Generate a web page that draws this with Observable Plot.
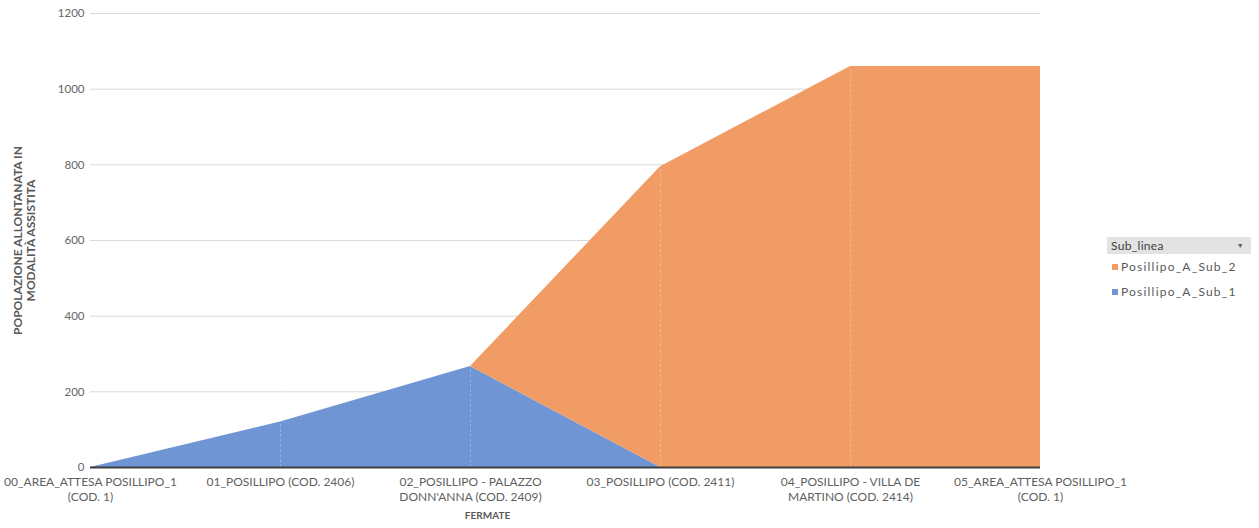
<!DOCTYPE html>
<html>
<head>
<meta charset="utf-8">
<script src="https://cdn.jsdelivr.net/npm/d3@7"></script>
<script src="https://cdn.jsdelivr.net/npm/@observablehq/plot@0.6"></script>
<style>
  html, body { margin: 0; padding: 0; background: #fff; }
  #wrap { position: relative; width: 1259px; height: 528px; font-family: Lato, "Open Sans", sans-serif; }
  #legend { position: absolute; left: 1107px; top: 237px; width: 144px; font-size: 12px; color: #595959; }
  #legend .head { background: #e3e3e3; height: 17px; line-height: 17px; padding-left: 4px; color: #404040; position: relative; letter-spacing: 0.3px; }
  #legend .head span.arrow { position: absolute; right: 7px; top: 0; font-size: 7px; color: #595959; }
  #legend .item { height: 25px; line-height: 25px; padding-left: 5px; letter-spacing: 1.2px; white-space: nowrap; }
  #legend .sw { display: inline-block; width: 6px; height: 6px; margin-right: 3px; vertical-align: 1px; }
</style>
</head>
<body>
<div id="wrap"></div>
<script>
const categories = [
  "00_AREA_ATTESA POSILLIPO_1 (COD. 1)",
  "01_POSILLIPO (COD. 2406)",
  "02_POSILLIPO - PALAZZO DONN'ANNA (COD. 2409)",
  "03_POSILLIPO (COD. 2411)",
  "04_POSILLIPO - VILLA DE MARTINO (COD. 2414)",
  "05_AREA_ATTESA POSILLIPO_1 (COD. 1)"
];
const tickLabels = [
  "00_AREA_ATTESA POSILLIPO_1\n(COD. 1)",
  "01_POSILLIPO (COD. 2406)",
  "02_POSILLIPO - PALAZZO\nDONN'ANNA (COD. 2409)",
  "03_POSILLIPO (COD. 2411)",
  "04_POSILLIPO - VILLA DE\nMARTINO (COD. 2414)",
  "05_AREA_ATTESA POSILLIPO_1\n(COD. 1)"
];
const seriesNames = ["Posillipo_A_Sub_1", "Posillipo_A_Sub_2"];
const sub1 = [0, 120, 267, 0, 0, 0];
const sub2 = [0, 0, 0, 795, 1060, 1060];
const yTicks = [0, 200, 400, 600, 800, 1000, 1200];
const colors = ["#6F95D4", "#F19C64"];

const data = [];
categories.forEach((c, i) => {
  data.push({cat: c, serie: seriesNames[0], v: sub1[i]});
  data.push({cat: c, serie: seriesNames[1], v: sub2[i]});
});
const labelOf = new Map(categories.map((c, i) => [c, tickLabels[i]]));

const chart = Plot.plot({
  width: 1259,
  height: 528,
  marginLeft: 90,
  marginRight: 219,
  marginTop: 13,
  marginBottom: 61,
  style: {fontFamily: "Lato, 'Open Sans', sans-serif", fontSize: "12px", color: "#595959", background: "#fff"},
  x: {type: "point", domain: categories, padding: 0, label: null},
  y: {domain: [0, 1200], label: null},
  color: {domain: seriesNames, range: colors},
  marks: [
    Plot.gridY(yTicks, {stroke: "#d9d9d9", strokeOpacity: 1, strokeWidth: 1}),
    Plot.areaY(data, {x: "cat", y: "v", fill: "serie", order: seriesNames, fillOpacity: 1}),
    Plot.ruleX(categories.slice(1, 5), {stroke: "#ffffff", strokeOpacity: 0.25, strokeDasharray: "3,2", y1: 0, y2: 1200}),
    Plot.ruleY([0], {stroke: "#404040", strokeWidth: 2}),
    Plot.axisY(yTicks, {tickSize: 0, tickPadding: 6, fontSize: 11.5, fill: "#666", label: null, tickFormat: d => String(d)}),
    Plot.axisX({tickSize: 0, tickPadding: 8, fontSize: 12, fill: "#5f5f5f", lineHeight: 1.25, tickFormat: d => labelOf.get(d), label: null}),
    Plot.text(["POPOLAZIONE ALLONTANATA IN\nMODALITÀ ASSISTITA"], {frameAnchor: "left", textAnchor: "middle", dx: -66, dy: 0, rotate: -90, fontSize: 12, fontWeight: "bold", fill: "#595959", lineHeight: 1.1}),
    Plot.text(["FERMATE"], {x: () => categories[2], frameAnchor: "bottom", dx: 17, dy: 51, fontSize: 10, fontWeight: "bold", fill: "#595959"})
  ]
});
const wrap = document.getElementById("wrap");
wrap.appendChild(chart);

const legend = document.createElement("div");
legend.id = "legend";
legend.innerHTML = `<div class="head">Sub_linea<span class="arrow">&#9660;</span></div>` +
  [1, 0].map(i => `<div class="item"><span class="sw" style="background:${colors[i]}"></span>${seriesNames[i]}</div>`).join("");
wrap.appendChild(legend);
</script>
</body>
</html>
